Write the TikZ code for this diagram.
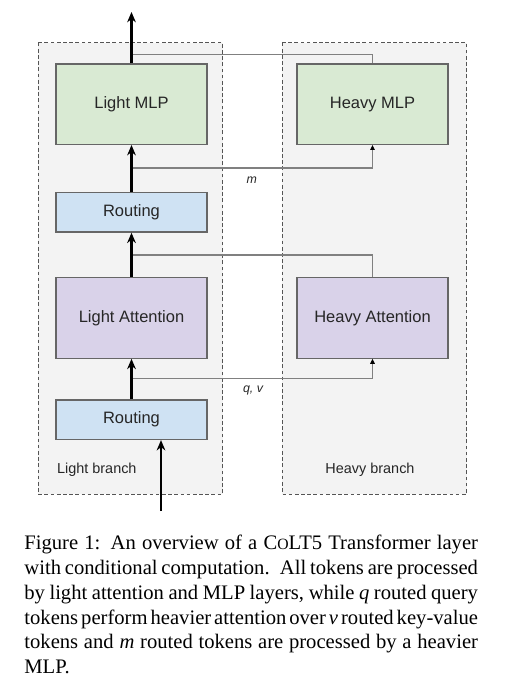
\documentclass[tikz,border=0pt]{standalone}
\usepackage{fontspec}
\setmainfont{Liberation Serif}
\newfontfamily\diagfont{Liberation Sans}
\usetikzlibrary{arrows.meta}
\definecolor{mlpgreen}{HTML}{D9EAD3}
\definecolor{routblue}{HTML}{CFE2F3}
\definecolor{attpurple}{HTML}{D9D2E9}
\definecolor{branchbg}{HTML}{F3F3F3}
\definecolor{boxborder}{HTML}{666666}
\definecolor{routegray}{HTML}{808080}
\definecolor{dashgray}{HTML}{555555}
\newcommand{\capline}[1]{\hbox to \linewidth{#1}}
\begin{document}
\begin{tikzpicture}[x=0.485pt,y=-0.485pt,
  block/.style={draw=boxborder,line width=0.6pt,inner sep=0pt,
    minimum width=73.3pt,font=\diagfont\fontsize{8}{9.6}\selectfont,text=black!85},
  tall/.style={minimum height=39pt},
  short/.style={minimum height=19.2pt},
  branch/.style={fill=branchbg,draw=dashgray,line width=0.45pt,dash pattern=on 1.8pt off 1.2pt},
  mainarrow/.style={draw=black,line width=1.1pt,-{Stealth[length=5pt,width=4.2pt,inset=1.6pt]}},
  routed/.style={draw=routegray,line width=0.5pt},
  routedarrow/.style={routed,-{Triangle[length=2.4pt,width=2.2pt,color=black]}},
  lbl/.style={font=\diagfont\itshape\fontsize{6}{7}\selectfont,inner sep=0pt,text=black!85},
  branchlbl/.style={font=\diagfont\fontsize{7}{8.4}\selectfont,inner sep=0pt,text=black!85}]
\useasboundingbox (0,0) rectangle (506,696);
% branch regions
\path[branch] (38,42.7) rectangle (222.7,494);
\path[branch] (282.3,42.7) rectangle (466.7,494);
% blocks
\node[block,tall,fill=mlpgreen] (lmlp) at (131.5,104.2) {Light MLP};
\node[block,short,fill=routblue] (rout2) at (131.5,212.3) {Routing};
\node[block,tall,fill=attpurple] (latt) at (131.5,318) {Light Attention};
\node[block,short,fill=routblue] (rout1) at (131.5,419.7) {Routing};
\node[block,tall,fill=mlpgreen] (hmlp) at (372.5,104.2) {Heavy MLP};
\node[block,tall,fill=attpurple] (hatt) at (372.5,318) {Heavy Attention};
% branch labels
\node[branchlbl,anchor=west] (lbr) at (56.7,470) {Light branch};
\node[branchlbl] (hbr) at (370,470) {Heavy branch};
% routing labels
\node[lbl] (mlab) at (251.7,180) {m};
\node[lbl] (qvlab) at (253,390) {q, v};
% coordinates
\coordinate (in) at (161,511);
\coordinate (out) at (131.5,12);
\coordinate (split1) at (131.5,378.3);
\coordinate (join1) at (131.5,255);
\coordinate (split2) at (131.5,168);
\coordinate (join2) at (131.5,54.3);
% routed connectors
\draw[routedarrow] (split1) -| (hatt.south);
\draw[routed] (hatt.north) |- (join1);
\draw[routedarrow] (split2) -| (hmlp.south);
\draw[routed] (hmlp.north) |- (join2);
% main flow
\draw[mainarrow] (in) -- (in |- rout1.south);
\draw[mainarrow] (rout1) -- (latt);
\draw[mainarrow] (latt) -- (rout2);
\draw[mainarrow] (rout2) -- (lmlp);
\draw[mainarrow] (lmlp) -- (out);
% caption
\node[anchor=north west,inner sep=0pt,text width=220pt,align=left,
  font=\fontsize{10}{12}\selectfont] (caption) at (24,535)
  {\spaceskip=0.25em plus 0.3em minus 0.12em\relax
   \capline{Figure 1: An overview of a C{\fontsize{7.6}{12}\selectfont O}LT5 Transformer layer}
   \capline{with conditional computation. All tokens are processed}
   \capline{by light attention and MLP layers, while \textit{q} routed query}
   \capline{tokens perform heavier attention over \textit{v} routed key-value}
   \capline{tokens and \textit{m} routed tokens are processed by a heavier}
   MLP.};
\end{tikzpicture}
\end{document}
